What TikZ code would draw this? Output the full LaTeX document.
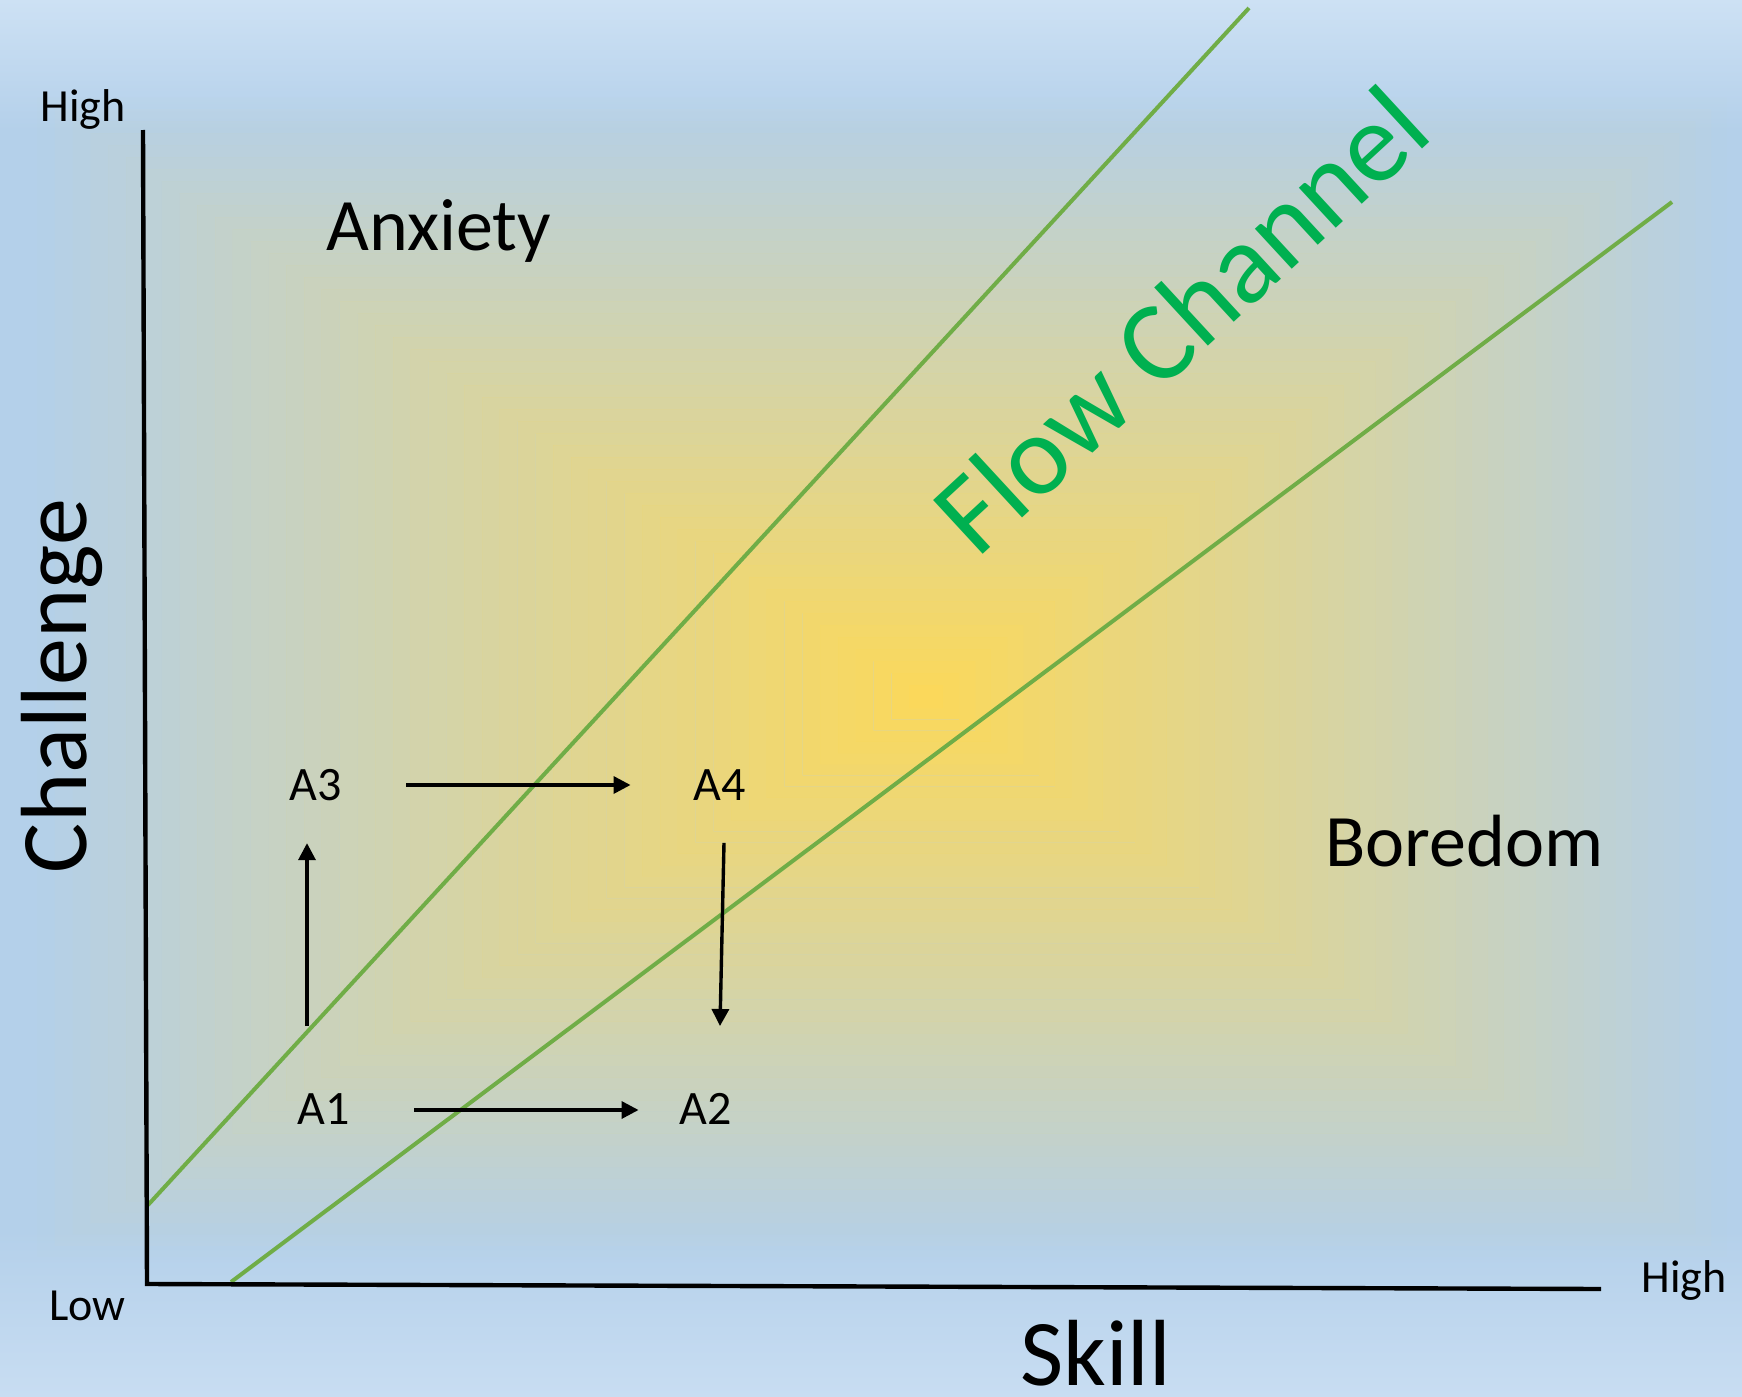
\documentclass[tikz,border=0pt]{standalone}
\usepackage{fontspec}
\setmainfont{Carlito}
\usetikzlibrary{arrows.meta}
\definecolor{bgblue}{HTML}{B4D0EA}
\definecolor{topc}{HTML}{CDE1F4}
\definecolor{botc}{HTML}{C8DDF2}
\definecolor{glow}{HTML}{FCD95A}
\definecolor{lgreen}{HTML}{70AD47}
\definecolor{fgreen}{HTML}{00B050}
\tikzset{
  chan/.style={draw=lgreen, line width=2pt},
  axis/.style={draw=black, line width=2.2pt},
  arr/.style={draw=black, line width=1.7pt, -{Triangle[length=8.5pt,width=8.5pt]}},
  alabel/.style={font=\fontsize{24pt}{28pt}\selectfont, inner sep=0pt},
  endlabel/.style={font=\fontsize{23pt}{27pt}\selectfont, inner sep=0pt, anchor=base west},
  region/.style={font=\fontsize{37pt}{43pt}\selectfont, inner sep=0pt, anchor=base west},
  axtitle/.style={font=\fontsize{47pt}{55pt}\selectfont, inner sep=0pt},
}
\begin{document}
\begin{tikzpicture}[x=0.5pt,y=-0.5pt]
\useasboundingbox (0,0) rectangle (1742,1397);
\clip (0,0) rectangle (1742,1397);
% background
\fill[bgblue] (0,0) rectangle (1742,1397);
\shade[top color=topc, bottom color=bgblue] (0,0) rectangle (1742,130);
\shade[top color=bgblue, bottom color=botc] (0,1230) rectangle (1742,1397);
\foreach \i in {1,...,50}{
  \pgfmathsetmacro\tout{\i/50}
  \pgfmathsetmacro\tin{(\i-1)/50}
  \pgfmathsetmacro\alp{1-(\i-0.5)/50}
  \fill[glow, fill opacity=\alp, even odd rule]
    (927-890*\tout, 697-600*\tout) rectangle (927+800*\tout, 697+560*\tout)
    (927-890*\tin, 697-600*\tin) rectangle (927+800*\tin, 697+560*\tin);
}
% flow channel boundaries
\coordinate (c1s) at (148,1205);
\coordinate (c1e) at (1249,8);
\coordinate (c2s) at (231,1282);
\coordinate (c2e) at (1672,202);
\draw[chan] (c1s) -- (c1e);
\draw[chan] (c2s) -- (c2e);
% axes
\coordinate (ytop) at (143,130);
\coordinate (orig) at (147,1284);
\coordinate (xend) at (1601,1289);
\draw[axis] (ytop) -- (orig) -- (xend);
% axis labels
\node[endlabel] (hightop) at (40,121) {High};
\node[endlabel] (low) at (49,1320) {Low};
\node[endlabel] (highright) at (1641,1292) {High};
\node[axtitle, anchor=base west] (skill) at (1020,1385) {Skill};
\node[axtitle, anchor=base, rotate=90] (challenge) at (86,686) {Challenge};
% regions
\node[region] (anxiety) at (326,250) {Anxiety};
\node[region] (boredom) at (1325,866) {Boredom};
\node[font=\fontsize{57pt}{66pt}\selectfont, text=fgreen, inner sep=0pt, anchor=base, rotate=42.7] (flow) at (1207,348) {Flow Channel};
% states
\node[alabel] (a3) at (316,785) {A3};
\node[alabel] (a4) at (720,785) {A4};
\node[alabel] (a1) at (324,1109) {A1};
\node[alabel] (a2) at (706,1109) {A2};
% transitions
\draw[arr] ([shift={(64,0)}]a3.east) -- ([shift={(-63,0)}]a4.west);
\draw[arr] ([shift={(64,1)}]a1.east) -- ([shift={(-41,1)}]a2.west);
\draw[arr] ([shift={(-17,-67)}]a1.north) -- ([shift={(-9,42)}]a3.south);
\draw[arr] ([shift={(4,42)}]a4.south) -- ([shift={(14,-67)}]a2.north);
\end{tikzpicture}
\end{document}
